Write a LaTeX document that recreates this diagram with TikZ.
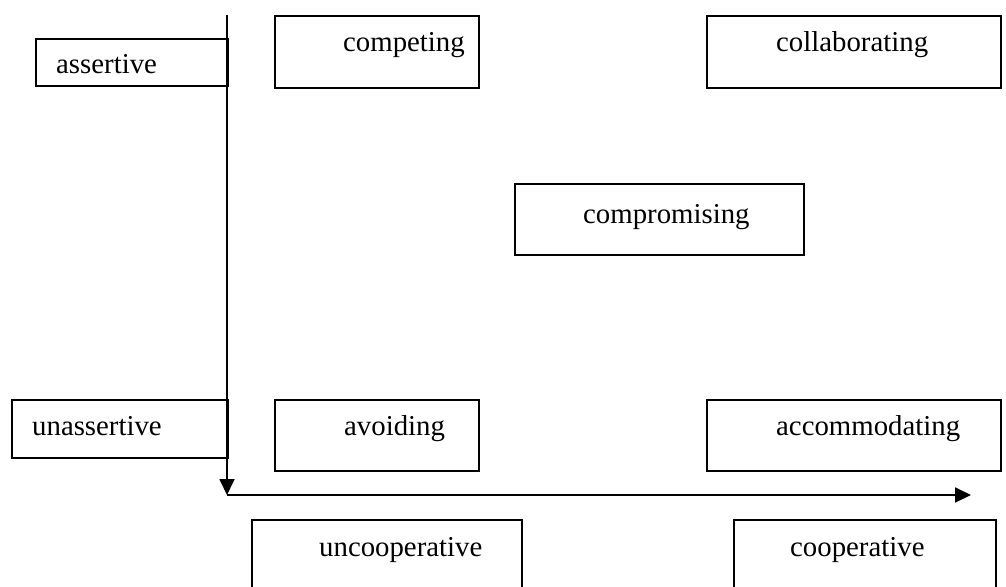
\documentclass[tikz,border=0pt]{standalone}
\usepackage{fontspec}
\setmainfont{Liberation Serif}
\usetikzlibrary{arrows.meta}
\begin{document}
\begin{tikzpicture}[x=1pt,y=-1pt,
  boxnode/.style={draw=black, line width=1.8pt, rectangle, inner sep=0pt, anchor=north west},
  lbl/.style={anchor=base west, inner sep=0pt, font=\fontsize{28.8}{34}\selectfont},
  axis/.style={line width=1.8pt, -{Triangle[length=16pt,width=15pt]}}]
\useasboundingbox (0,0) rectangle (1006,586);
\clip (0,0) rectangle (1006,586);
% boxes
\node[boxnode, minimum width=192pt, minimum height=47pt] (assertBox) at (35,38) {};
\node[boxnode, minimum width=204pt, minimum height=72pt] (competBox) at (274,15) {};
\node[boxnode, minimum width=294pt, minimum height=72pt] (collabBox) at (706,15) {};
\node[boxnode, minimum width=289pt, minimum height=71pt] (comproBox) at (514,183) {};
\node[boxnode, minimum width=216pt, minimum height=58pt] (unassBox) at (11,399) {};
\node[boxnode, minimum width=204pt, minimum height=71pt] (avoidBox) at (274,399) {};
\node[boxnode, minimum width=294pt, minimum height=71pt] (accomBox) at (706,399) {};
\node[boxnode, minimum width=270pt, minimum height=100pt] (uncoopBox) at (251,519) {};
\node[boxnode, minimum width=262pt, minimum height=100pt] (coopBox) at (733,519) {};
% labels
\node[lbl] (assertT) at (56,74) {assertive};
\node[lbl] (competT) at (343,52) {competing};
\node[lbl] (collabT) at (776,52) {collaborating};
\node[lbl] (comproT) at (583,223) {compromising};
\node[lbl] (unassT) at (32,435) {unassertive};
\node[lbl] (avoidT) at (344,435) {avoiding};
\node[lbl] (accomT) at (776,435) {accommodating};
\node[lbl] (uncoopT) at (319,556) {uncooperative};
\node[lbl] (coopT) at (790,556) {cooperative};
% axes
\coordinate (top) at (227,15);
\coordinate (corner) at (227,495);
\coordinate (right) at (971,495);
\draw[axis] (top) -- (corner);
\draw[axis] (corner) -- (right);
\end{tikzpicture}
\end{document}
